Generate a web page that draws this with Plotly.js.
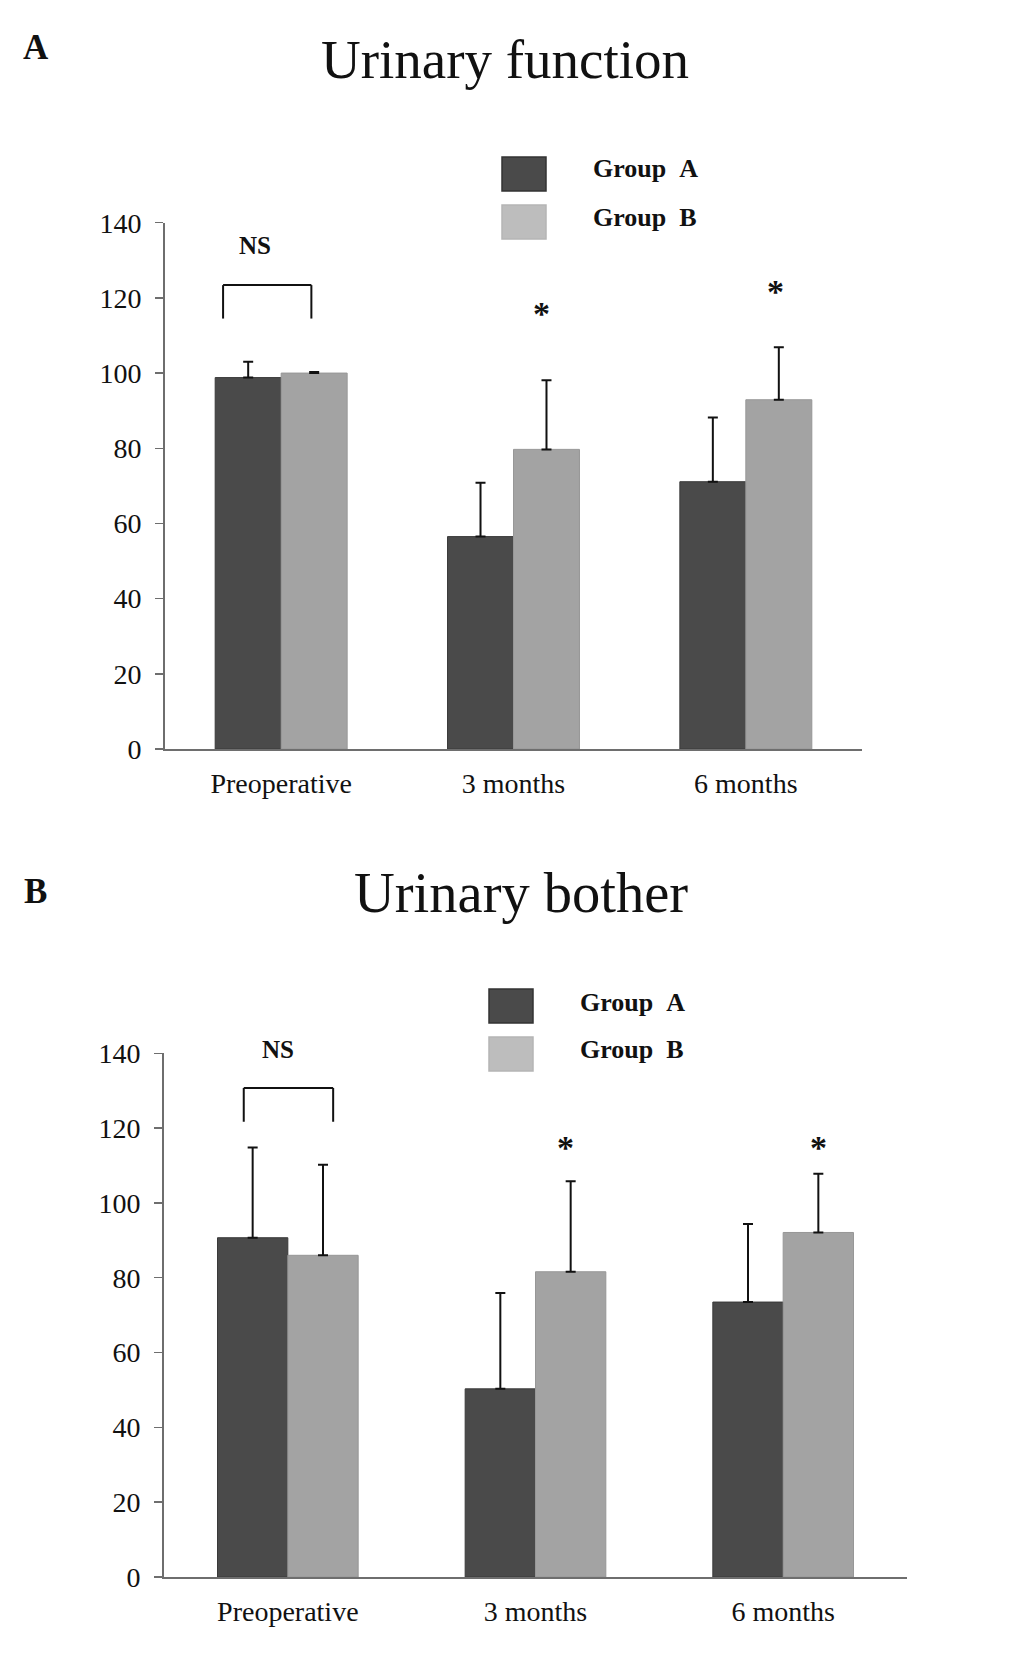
<!DOCTYPE html>
<html>
<head>
<meta charset="utf-8">
<script src="https://cdn.plot.ly/plotly-3.0.1.min.js"></script>
<style>html,body{margin:0;padding:0;background:#fff}</style>
</head>
<body>
<div id="chart" style="width:1033px;height:1657px"></div>
<script>
const categories = ['Preoperative', '3 months', '6 months'];
const yTicks = [0, 20, 40, 60, 80, 100, 120, 140];
const groupNames = ['Group\u00a0\u00a0A', 'Group\u00a0\u00a0B'];

// Urinary function (panel A)
const funcGroupA = [98.8, 56.5, 71.1];
const funcGroupAErr = [4.2, 14.3, 17.1];
const funcGroupB = [100, 79.7, 92.9];
const funcGroupBErr = [0.3, 18.4, 14.0];

// Urinary bother (panel B)
const botherGroupA = [90.7, 50.3, 73.5];
const botherGroupAErr = [24.1, 25.6, 20.9];
const botherGroupB = [86.0, 81.6, 92.1];
const botherGroupBErr = [24.2, 24.2, 15.7];

const W = 1033, H = 1657;
const px = v => v / W;
const py = v => 1 - v / H;
const SERIF = 'Liberation Serif, Times New Roman, serif';
const COLOR_A = '#4a4a4a', COLOR_B = '#a3a3a3';

function barTrace(name, y, err, color, edge, xa, ya) {
    return {
        type: 'bar',
        name: name,
        x: categories,
        y: y,
        xaxis: xa,
        yaxis: ya,
        marker: {color: color, line: {color: edge, width: 1}},
        error_y: {
            type: 'data', symmetric: false,
            array: err, arrayminus: err.map(() => 0),
            color: '#111', thickness: 2, width: 5,
        },
        hoverinfo: 'skip',
    };
}

const data = [
    barTrace('Group A', funcGroupA, funcGroupAErr, COLOR_A, '#3a3a3a', 'x', 'y'),
    barTrace('Group B', funcGroupB, funcGroupBErr, COLOR_B, '#979797', 'x', 'y'),
    barTrace('Group A', botherGroupA, botherGroupAErr, COLOR_A, '#3a3a3a', 'x2', 'y2'),
    barTrace('Group B', botherGroupB, botherGroupBErr, COLOR_B, '#979797', 'x2', 'y2'),
];

const xCommon = {
    type: 'category', range: [-0.5, 2.5], fixedrange: true,
    showgrid: false, zeroline: false,
    showline: true, linecolor: '#6e6e6e', linewidth: 2,
    ticks: '', tickfont: {family: SERIF, size: 28, color: '#111'},
    ticklabelstandoff: 8,
};
const yCommon = {
    range: [0, 140], tickvals: yTicks, fixedrange: true,
    showgrid: false, zeroline: false,
    showline: true, linecolor: '#6e6e6e', linewidth: 2,
    ticks: 'outside', ticklen: 8, tickwidth: 1.5, tickcolor: '#6e6e6e',
    tickfont: {family: SERIF, size: 28, color: '#111'},
    ticklabelstandoff: 8,
};

// bracket + marks, in axis units (category index, value)
function bracket(xa, ya, x0, x1, yLow, yTop) {
    const base = {type: 'line', xref: xa, yref: ya, line: {color: '#111', width: 2}};
    return [
        Object.assign({x0: x0, x1: x0, y0: yLow, y1: yTop}, base),
        Object.assign({x0: x0, x1: x1, y0: yTop, y1: yTop}, base),
        Object.assign({x0: x1, x1: x1, y0: yTop, y1: yLow}, base),
    ];
}
function mark(xa, ya, x, y, text, size) {
    return {xref: xa, yref: ya, x: x, y: y, text: '<b>' + text + '</b>', showarrow: false,
        xanchor: 'center', yanchor: 'middle', font: {family: SERIF, size: size, color: '#111'}};
}
function legendBox(x0, y0, color, edge) {
    return {type: 'rect', xref: 'paper', yref: 'paper',
        x0: px(x0), x1: px(x0 + 44), y0: py(y0 + 34), y1: py(y0),
        fillcolor: color, line: {color: edge, width: 1.5}};
}
function paperText(x, y, text, size, bold) {
    return {xref: 'paper', yref: 'paper', x: px(x), y: py(y), showarrow: false,
        xanchor: 'center', yanchor: 'middle',
        text: bold ? '<b>' + text + '</b>' : text,
        font: {family: SERIF, size: size, color: '#111'}};
}

const shapes = [].concat(
    bracket('x', 'y', -0.25, 0.13, 114.5, 123.4),
    bracket('x2', 'y2', -0.178, 0.183, 121.7, 130.7),
    [
        legendBox(502, 157, COLOR_A, '#333'),
        legendBox(502, 205, '#bdbdbd', '#b5b5b5'),
        legendBox(489, 989, COLOR_A, '#333'),
        legendBox(489, 1037, '#bdbdbd', '#b5b5b5'),
    ]
);

const annotations = [
    paperText(36, 48, 'A', 35, true),
    paperText(505, 60, 'Urinary function', 55, false),
    paperText(35, 891, 'B', 35, true),
    paperText(521, 893, 'Urinary bother', 56.5, false),
    paperText(645, 168, groupNames[0], 26, true),
    paperText(645, 218, groupNames[1], 26, true),
    paperText(632, 1002, groupNames[0], 26, true),
    paperText(632, 1049, groupNames[1], 26, true),
    mark('x', 'y', -0.114, 133.9, 'NS', 25),
    mark('x', 'y', 1.121, 115.9, '*', 34),
    mark('x', 'y', 2.129, 121.8, '*', 34),
    // sits just above the 140 top of panel B, so it is placed on the page
    paperText(278, 1049, 'NS', 25, true),
    mark('x2', 'y2', 1.121, 114.8, '*', 34),
    mark('x2', 'y2', 2.144, 114.8, '*', 34),
];

const layout = {
    width: W, height: H,
    margin: {l: 0, r: 0, t: 0, b: 0},
    paper_bgcolor: '#fff', plot_bgcolor: '#fff',
    showlegend: false,
    barmode: 'group', bargap: 0.432, bargroupgap: 0,
    font: {family: SERIF, color: '#111'},
    xaxis: Object.assign({domain: [px(165), px(862)], anchor: 'y'}, xCommon),
    yaxis: Object.assign({domain: [py(749), py(222.7)], anchor: 'x'}, yCommon),
    xaxis2: Object.assign({domain: [px(164), px(907)], anchor: 'y2'}, xCommon),
    yaxis2: Object.assign({domain: [py(1577), py(1053.3)], anchor: 'x2'}, yCommon),
    shapes: shapes,
    annotations: annotations,
};

Plotly.newPlot('chart', data, layout, {displayModeBar: false, staticPlot: true});
</script>
</body>
</html>
